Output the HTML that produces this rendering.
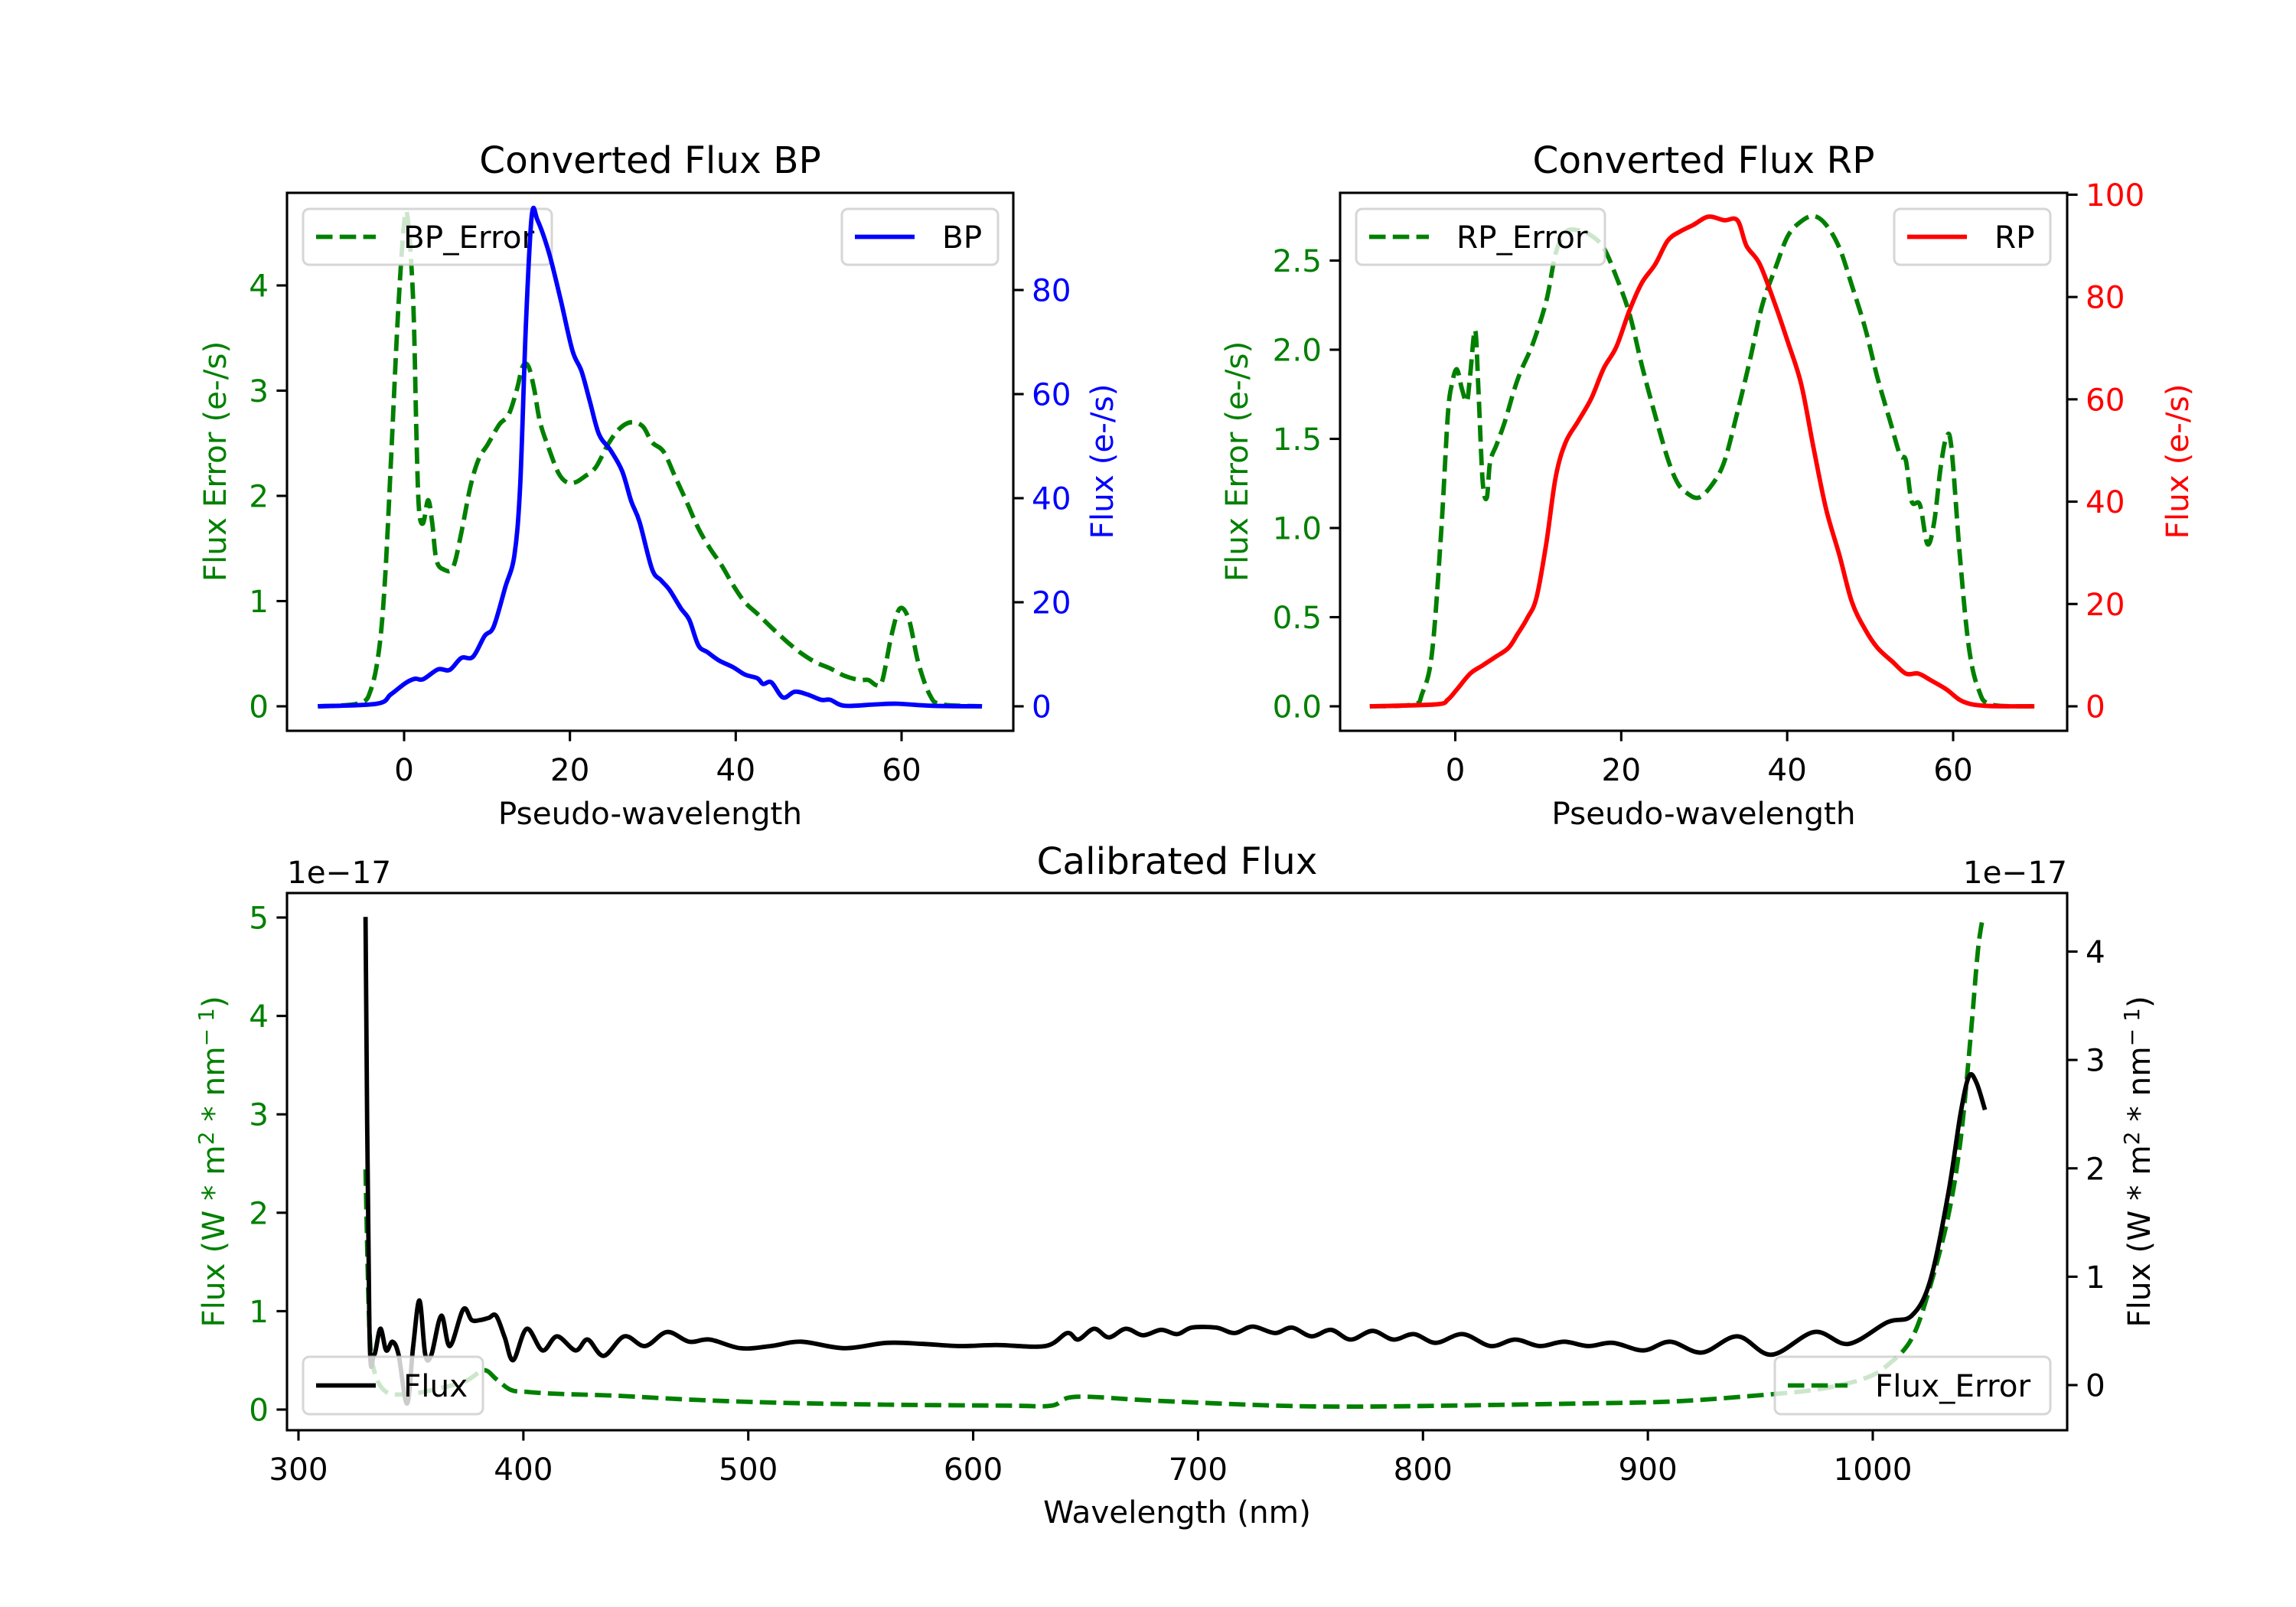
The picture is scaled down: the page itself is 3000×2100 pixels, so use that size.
<!DOCTYPE html>
<html><head><meta charset="utf-8"><style>
html,body{margin:0;padding:0;background:#fff}
svg{display:block}
text{font-family:"DejaVu Sans","Liberation Sans",sans-serif}
</style></head><body>
<svg id="fig" xmlns="http://www.w3.org/2000/svg" width="3000" height="2100" viewBox="0 0 3000 2100">
<rect width="3000" height="2100" fill="#fff"/>
</svg>
<script>
// ---- BP data ----
const bpX = [-10.4,-3.3,-1.6,0.2,1.3,2.3,4.1,5.5,6.9,8.3,9.7,10.8,12.2,13.3,14,14.7,15.4,16.1,17.5,18.9,20.3,21.4,22.4,23.5,24.9,26.3,27.4,28.4,29.9,31,32,33.4,34.4,35.5,36.6,38,39.7,41.1,42.6,43.3,44.3,45.7,47.1,48.6,50.3,51.4,53.1,56.7,59.5,63.7,69.7];
const bpFlux = [0,0.5,2.3,4.5,5.3,5.2,7.1,7,9.3,9.5,13.5,15.3,22.9,29,42.5,73.8,94.3,93.4,87,78,68.4,64.4,58.6,52.3,49.2,45.2,39.4,35.4,26.4,24.2,22.4,18.8,16.6,11.7,10.4,8.8,7.5,6.1,5.4,4.3,4.6,1.7,2.8,2.3,1.25,1.25,0.1,0.35,0.5,0.1,0];
const bpErrX = [-10.4,-5.4,-4,-3,-2.3,-1.6,-0.8,-0.1,0.4,1.1,1.5,1.8,2.3,2.9,3.4,3.9,4.8,5.9,6.9,8,9,10.1,11.5,12.6,13.6,14.3,15,15.7,16.4,17.5,18.6,19.6,20.7,21.7,23.1,24.6,26,27.4,28.8,29.9,31.3,32.7,34.1,35.5,36.9,38.3,39.7,41.1,42.6,44.3,46.1,47.8,49.6,51.4,53.1,54.9,56,57,57.7,58.8,59.8,60.9,62,63.4,64.8,69.7];
const bpErr = [0,0.03,0.16,0.55,1.21,2.31,3.63,4.5,4.66,3.85,2.53,1.87,1.74,1.96,1.74,1.39,1.3,1.32,1.65,2.09,2.35,2.49,2.68,2.77,3.01,3.23,3.23,3.01,2.7,2.44,2.22,2.13,2.13,2.18,2.27,2.49,2.64,2.7,2.66,2.51,2.42,2.18,1.94,1.69,1.5,1.34,1.15,0.99,0.88,0.75,0.62,0.51,0.42,0.36,0.29,0.25,0.25,0.2,0.25,0.68,0.93,0.82,0.42,0.11,0.02,0];
// ---- RP data ----
const rpX = [-10.3,-2.1,-0.9,0.2,1.8,3.3,4.8,6.4,7.5,8.7,9.8,11,12.1,13.3,14.8,16.4,17.9,19.4,21,22.5,24.1,25.6,27.1,28.7,30.5,32.4,34,35.1,36.7,38.6,40.1,41.7,43.2,44.7,46.3,47.8,49.4,50.9,52.7,54.3,55.8,57.3,59.2,61.1,63.8,69.8];
const rpFlux = [0,0.4,1.3,3.3,6.4,8,9.6,11.4,14.1,17.3,21.3,32.2,44.8,51.6,55.7,60.2,66.1,70.2,77.4,82.8,86.4,91,92.8,94.1,95.7,95,95,90,86.4,78.3,71.1,62.9,50.3,38.5,29.5,20.4,15,11.4,8.7,6.4,6.4,5.1,3.3,1,0.1,0];
const rpErrX = [-10.3,-5.1,-4,-2.8,-1.7,-0.9,-0.4,0.2,0.8,1.4,1.8,2.4,2.8,3.3,3.8,4.2,5,6,7,7.9,9.4,11,12.1,13.3,14.8,16.4,17.9,19.4,21,22.5,24.1,25.6,26.7,27.8,29.3,30.9,32.4,34,35.5,37,38.6,40.1,41.7,43.2,44.7,46.3,47.8,49.4,50.9,52.4,53.6,54.3,55,56,56.9,57.7,58.5,59.2,59.8,60.8,61.9,63.1,64.6,69.8];
const rpErr = [0,0.01,0.07,0.3,0.98,1.63,1.81,1.89,1.78,1.71,1.86,2.11,1.76,1.26,1.17,1.37,1.47,1.6,1.76,1.88,2.04,2.28,2.54,2.66,2.67,2.64,2.57,2.41,2.2,1.91,1.63,1.39,1.26,1.2,1.17,1.24,1.37,1.65,1.94,2.25,2.46,2.64,2.72,2.75,2.7,2.57,2.36,2.12,1.84,1.6,1.41,1.38,1.15,1.13,0.91,1.03,1.34,1.51,1.45,0.85,0.33,0.09,0.01,0];
// ---- Calibrated data (units of 1e-17) ----
const calX = [329.8,331.5,333.6,336.4,339,341.8,344.5,348.3,351,353.8,356.4,359.1,363.5,367.3,373.3,377,380.8,384.6,387.9,391.7,395.5,401.5,408.5,415,423.2,428.6,435.7,444.9,454.1,463.9,473.7,482.9,496.5,510,523.6,542.6,561.5,577.8,594.1,610.4,632.1,641.8,646.7,653.8,660.3,667.9,675.5,683.6,690.7,697.2,708.1,716.2,724.3,734.1,741.7,750.4,759.1,767.8,777.5,786.8,795.9,805.7,817.6,830.1,841,851.8,862.7,873.5,884.4,898,909.9,924,939.8,955,974,989.1,1006.5,1017.3,1025.5,1033.6,1039,1042.8,1046.1,1049.9];
const calFlux = [4.32,0.56,0.28,0.52,0.32,0.4,0.28,-0.17,0.36,0.78,0.28,0.28,0.64,0.36,0.7,0.6,0.6,0.62,0.64,0.44,0.23,0.52,0.32,0.45,0.32,0.42,0.27,0.45,0.36,0.49,0.4,0.42,0.34,0.36,0.4,0.34,0.39,0.38,0.36,0.37,0.36,0.48,0.42,0.52,0.44,0.52,0.46,0.51,0.47,0.53,0.53,0.48,0.54,0.48,0.53,0.45,0.51,0.42,0.5,0.42,0.47,0.39,0.47,0.36,0.42,0.36,0.4,0.36,0.39,0.32,0.4,0.3,0.45,0.28,0.49,0.38,0.58,0.64,0.96,1.77,2.5,2.85,2.79,2.54];
const calErrX = [329.8,331.5,333.6,339,349.9,363.5,374.4,382.5,387.9,394.4,401.5,415,442.2,474.8,512.7,561.5,615.8,634.8,645.6,680.9,735.1,770.4,811.1,865.4,908.8,941.3,973.9,995.6,1006.5,1017.3,1025.5,1033.6,1039,1043.4,1046.7,1048.9];
const calErr = [2.44,0.85,0.4,0.18,0.16,0.22,0.29,0.4,0.31,0.2,0.18,0.16,0.14,0.1,0.07,0.05,0.04,0.04,0.13,0.09,0.04,0.03,0.04,0.06,0.08,0.13,0.2,0.31,0.45,0.72,1.25,1.97,2.73,3.76,4.65,5.0];
// ticks
const bpXTicks=[0,20,40,60], bpLTicks=[0,1,2,3,4], bpRTicks=[0,20,40,60,80];
const rpXTicks=[0,20,40,60], rpLTicks=[0,0.5,1,1.5,2,2.5], rpRTicks=[0,20,40,60,80,100];
const calXTicks=[300,400,500,600,700,800,900,1000], calLTicks=[0,1,2,3,4,5], calRTicks=[0,1,2,3,4];

const NS="http://www.w3.org/2000/svg";
const svg=document.getElementById('fig');
const FS=40.5, TFS=48.5, LW=5.8, GREEN="#008000";
function mk(tag,attrs,parent){const e=document.createElementNS(NS,tag);for(const k in attrs)e.setAttribute(k,attrs[k]);(parent||svg).appendChild(e);return e;}
function txt(s,attrs,parent){const e=mk('text',attrs,parent);e.textContent=s;return e;}
function lin(d0,d1,p0,p1){return v=>p0+(v-d0)/(d1-d0)*(p1-p0);}
function pathOf(xs,ys,sx,sy,smooth){
  const P=xs.map((x,i)=>[sx(x),sy(ys[i])]);
  let d='M'+P[0][0].toFixed(1)+' '+P[0][1].toFixed(1);
  for(let i=0;i<P.length-1;i++){
    const p0=P[Math.max(0,i-1)],p1=P[i],p2=P[i+1],p3=P[Math.min(P.length-1,i+2)];
    if(!smooth){d+='L'+p2[0].toFixed(1)+' '+p2[1].toFixed(1);continue;}
    const k=1/6;
    let c1x=p1[0]+(p2[0]-p0[0])*k,c1y=p1[1]+(p2[1]-p0[1])*k;
    let c2x=p2[0]-(p3[0]-p1[0])*k,c2y=p2[1]-(p3[1]-p1[1])*k;
    c1x=Math.min(Math.max(c1x,p1[0]),p2[0]);c2x=Math.min(Math.max(c2x,p1[0]),p2[0]);
    d+='C'+c1x.toFixed(1)+' '+c1y.toFixed(1)+' '+c2x.toFixed(1)+' '+c2y.toFixed(1)+' '+p2[0].toFixed(1)+' '+p2[1].toFixed(1);
  }
  return d;}
function fmt(v,dec){return dec?v.toFixed(dec):String(v);}

function xticks(g,ticks,sx,y){ticks.forEach(t=>{const x=sx(t);
  const l=mk('line',{x1:x,x2:x,y1:y,y2:y+13.6,stroke:'#000','stroke-width':3.1},g);
  
  const tl=txt(String(t),{x:x,y:y+65,'font-size':FS,'text-anchor':'middle'},g);
  });}
function yticks(g,ticks,sy,x,side,color,dec){ticks.forEach(t=>{const y=sy(t);
  const x2=side<0?x-13.6:x+13.6;
  const l=mk('line',{x1:x,x2:x2,y1:y,y2:y,stroke:'#000','stroke-width':3.1},g);
  
  const tl=txt(fmt(t,dec),{x:side<0?x-24:x+24,y:y+14.5,'font-size':FS,'text-anchor':side<0?'end':'start',fill:color},g);
  });}
function line(g,xs,ys,sx,sy,color,dashed,name){const p=mk('path',{d:pathOf(xs,ys,sx,sy,true),fill:'none',stroke:color,'stroke-width':LW,'stroke-linejoin':'round'},g);
  if(dashed)p.setAttribute('stroke-dasharray','21.5 9.3');
  }
function legend(g,x0,x1,y0,y1,label,color,dashed,name,textX){
  const lg=mk('g',{},g);
  mk('rect',{x:x0,y:y0,width:x1-x0,height:y1-y0,rx:8,fill:'#fff','fill-opacity':0.8,stroke:'#ccc','stroke-opacity':0.8,'stroke-width':3},lg);
  const ym=(y0+y1)/2;const hl=mk('line',{x1:x0+17,x2:x0+95,y1:ym,y2:ym,stroke:color,'stroke-width':LW},lg);
  if(dashed)hl.setAttribute('stroke-dasharray','21.5 9.3');
  txt(label,{x:x0+(textX||131),y:ym+14.5,'font-size':FS},lg);}
function frame(g,L,R,T,B){mk('rect',{x:L,y:T,width:R-L,height:B-T,fill:'none',stroke:'#000','stroke-width':3.1},g);}
function vlabel(g,s,x,y,color,name){const t=mk('text',{x:x,y:y,'font-size':FS,'text-anchor':'middle',fill:color,transform:`rotate(-90 ${x} ${y})`},g);t.textContent=s;
  return t;}

// ===== BP panel =====
(function(){
  const L=375,R=1324,T=252,B=955;
  const g=mk('g',{});
  const sx=lin(0,60,528,1178), syL=lin(0,4,923,373), syR=lin(0,80,923,379);
  const t=txt('Converted Flux BP',{x:(L+R)/2,y:226,'font-size':TFS,'text-anchor':'middle'},g);
  
  line(g,bpErrX,bpErr,sx,syL,GREEN,true,'bp-error-line');
  legend(g,396,721,273,346,'BP_Error',GREEN,true,'bp-error-legend');
  line(g,bpX,bpFlux,sx,syR,'#0000ff',false,'bp-flux-line');
  legend(g,1100,1304,273,346,'BP','#0000ff',false,'bp-legend',131);
  frame(g,L,R,T,B);
  xticks(g,bpXTicks,sx,B);yticks(g,bpLTicks,syL,L,-1,GREEN);yticks(g,bpRTicks,syR,R,1,'#0000ff');
  const xl=txt('Pseudo-wavelength',{x:(L+R)/2,y:1077,'font-size':FS,'text-anchor':'middle'},g);
  
  vlabel(g,'Flux Error (e-/s)',295,603,GREEN,'bp-left-y-axis-title');
  vlabel(g,'Flux (e-/s)',1454,603,'#0000ff','bp-right-y-axis-title');
})();
// ===== RP panel =====
(function(){
  const L=1751,R=2701,T=252,B=955;
  const g=mk('g',{});
  const sx=lin(0,60,1901.5,2552), syL=lin(0,2.5,923,340.5), syR=lin(0,100,923,254.4);
  const t=txt('Converted Flux RP',{x:(L+R)/2,y:226,'font-size':TFS,'text-anchor':'middle'},g);
  
  line(g,rpErrX,rpErr,sx,syL,GREEN,true,'rp-error-line');
  legend(g,1772,2097,273,346,'RP_Error',GREEN,true,'rp-error-legend');
  line(g,rpX,rpFlux,sx,syR,'#ff0000',false,'rp-flux-line');
  legend(g,2475,2679,273,346,'RP','#ff0000',false,'rp-legend',131);
  frame(g,L,R,T,B);
  xticks(g,rpXTicks,sx,B);yticks(g,rpLTicks,syL,L,-1,GREEN,1);yticks(g,rpRTicks,syR,R,1,'#ff0000');
  const xl=txt('Pseudo-wavelength',{x:(L+R)/2,y:1077,'font-size':FS,'text-anchor':'middle'},g);
  
  vlabel(g,'Flux Error (e-/s)',1630,603,GREEN,'rp-left-y-axis-title');
  vlabel(g,'Flux (e-/s)',2859,603,'#ff0000','rp-right-y-axis-title');
})();
// ===== Calibrated panel =====
(function(){
  const L=375,R=2701,T=1167,B=1869;
  const g=mk('g',{});
  const sx=lin(300,1000,390,2447), syL=lin(0,5,1842,1199), syR=lin(0,4,1810,1243.5);
  const t=txt('Calibrated Flux',{x:(L+R)/2,y:1142,'font-size':TFS,'text-anchor':'middle'},g);
  
  line(g,calErrX,calErr,sx,syL,GREEN,true,'flux-error-line');
  line(g,calX,calFlux,sx,syR,'#000',false,'flux-line');
  legend(g,396,631,1773,1848,'Flux','#000',false,'flux-legend',131);
  legend(g,2319,2679,1773,1848,'Flux_Error',GREEN,true,'flux-error-legend',131);
  frame(g,L,R,T,B);
  xticks(g,calXTicks,sx,B);yticks(g,calLTicks,syL,L,-1,GREEN);yticks(g,calRTicks,syR,R,1,'#000');
  const o1=txt('1e\u221217',{x:L,y:1154,'font-size':FS},g);
  const o2=txt('1e\u221217',{x:R,y:1154,'font-size':FS,'text-anchor':'end'},g);
  const xl=txt('Wavelength (nm)',{x:(L+R)/2,y:1990,'font-size':FS,'text-anchor':'middle'},g);
  
  [[293,GREEN,'calibrated-left-y-axis-title'],[2809,'#000','calibrated-right-y-axis-title']].forEach(([x,c,n])=>{
    const e=vlabel(g,'',x,1518,c,n);
    e.appendChild(document.createTextNode('Flux (W * m'));
    const s1=mk('tspan',{dy:-14,'font-size':28},e);s1.textContent='2';
    const s2=mk('tspan',{dy:14},e);s2.textContent=' * nm';
    const s3=mk('tspan',{dy:-14,'font-size':28},e);s3.textContent='\u2212 1';
    const s4=mk('tspan',{dy:14},e);s4.textContent=')';
  });
})();
</script>
</body></html>
